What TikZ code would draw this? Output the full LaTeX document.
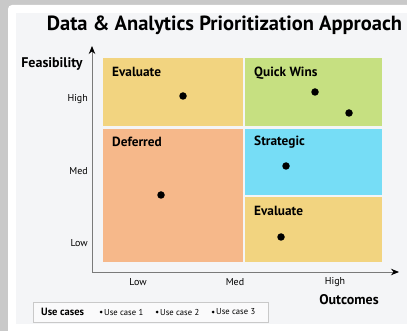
\documentclass[tikz,border=0pt]{standalone}
\usepackage{fontspec}
\setmainfont{PT Sans}
\usetikzlibrary{arrows.meta}

\definecolor{framegray}{HTML}{C9C9C9}
\definecolor{panelgray}{HTML}{F4F5F7}
\definecolor{axisgray}{HTML}{7A7A7A}
\definecolor{evalyellow}{HTML}{F2D480}
\definecolor{winsgreen}{HTML}{C6E081}
\definecolor{deferorange}{HTML}{F6B88A}
\definecolor{stratblue}{HTML}{76DDF6}

\begin{document}
\begin{tikzpicture}[x=1pt,y=-1pt,
    quad/.style={inner sep=0pt, outer sep=0pt},
    quadlabel/.style={anchor=west, inner sep=0pt, font=\fontsize{13.3}{15}\selectfont\bfseries},
    usecase/.style={circle, fill=black, inner sep=0pt, minimum size=7.5pt},
    ticklabel/.style={inner sep=0pt, font=\fontsize{10}{12}\selectfont},
    axislabel/.style={inner sep=0pt, font=\fontsize{14}{16}\selectfont\bfseries},
    legenddot/.style={circle, fill=black, inner sep=0pt, minimum size=3pt},
    legendtext/.style={anchor=west, inner sep=0pt, font=\fontsize{8.6}{10}\selectfont}]
  \useasboundingbox (0,0) rectangle (407,331);
  % background card
  \fill[framegray] (0,0) rectangle (407,331);
  \fill[white, rounded corners=4pt] (8,5) rectangle (415,340);
  \fill[panelgray] (16,13) rectangle (407,324);

  \node[inner sep=0pt, font=\fontsize{20.5}{23}\selectfont\bfseries] (title) at (224.5,25) {Data \& Analytics Prioritization Approach};

  % quadrants
  \node[quad, fill=evalyellow, minimum width=140pt, minimum height=68pt] (evaltop) at (173,92) {};
  \node[quad, fill=winsgreen, minimum width=137pt, minimum height=68pt] (quickwins) at (313.5,92) {};
  \node[quad, fill=deferorange, minimum width=140pt, minimum height=133pt] (deferred) at (173,195.5) {};
  \node[quad, fill=stratblue, minimum width=137pt, minimum height=66pt] (strategic) at (313.5,162) {};
  \node[quad, fill=evalyellow, minimum width=137pt, minimum height=65pt] (evalbot) at (313.5,229.5) {};

  \node[quadlabel] (evaltoplbl) at (112,72) {Evaluate};
  \node[quadlabel] (quickwinslbl) at (254,73) {Quick Wins};
  \node[quadlabel] (deferredlbl) at (112,142) {Deferred};
  \node[quadlabel] (strategiclbl) at (254,142) {Strategic};
  \node[quadlabel] (evalbotlbl) at (254,211) {Evaluate};

  % use cases
  \node[usecase] (ucevaltop) at (183,96) {};
  \node[usecase] (ucwinsa) at (315,92) {};
  \node[usecase] (ucwinsb) at (349,113) {};
  \node[usecase] (ucstrat) at (286,166) {};
  \node[usecase] (ucdefer) at (161,195) {};
  \node[usecase] (ucevalbot) at (281,237) {};

  % axes
  \coordinate (origin) at (92,272);
  \coordinate (ytip) at (92,46);
  \coordinate (xtip) at (399,272);
  \draw[axisgray, line width=0.9pt, -{Stealth[black, length=8pt, width=6.5pt]}] (origin) -- (ytip);
  \draw[axisgray, line width=0.9pt, -{Stealth[black, length=8pt, width=6.5pt]}] (origin) -- (xtip);

  \node[axislabel] (feasibility) at (52,64) {Feasibility};
  \node[ticklabel, anchor=east] (yhigh) at (88,99) {High};
  \node[ticklabel, anchor=east] (ymed) at (88,171) {Med};
  \node[ticklabel, anchor=east] (ylow) at (88,243) {Low};

  \node[ticklabel] (xlow) at (138,282) {Low};
  \node[ticklabel] (xmed) at (235,282) {Med};
  \node[ticklabel] (xhigh) at (335,282) {High};
  \node[axislabel] (outcomes) at (349,300) {Outcomes};

  % legend
  \node[draw=framegray, fill=panelgray!50!white, inner sep=0pt, minimum width=235pt, minimum height=20pt] (legend) at (150.5,312) {};
  \node[anchor=west, inner sep=0pt, font=\fontsize{10.5}{12}\selectfont\bfseries] (legendtitle) at (41,312) {Use cases};
  \node[legenddot] (dota) at (101,312) {};
  \node[legendtext] (casea) at (104,312) {Use case 1};
  \node[legenddot] (dotb) at (157,312) {};
  \node[legendtext] (caseb) at (160,312) {Use case 2};
  \node[legenddot] (dotc) at (213,312) {};
  \node[legendtext] (casec) at (216,312) {Use case 3};
\end{tikzpicture}
\end{document}
